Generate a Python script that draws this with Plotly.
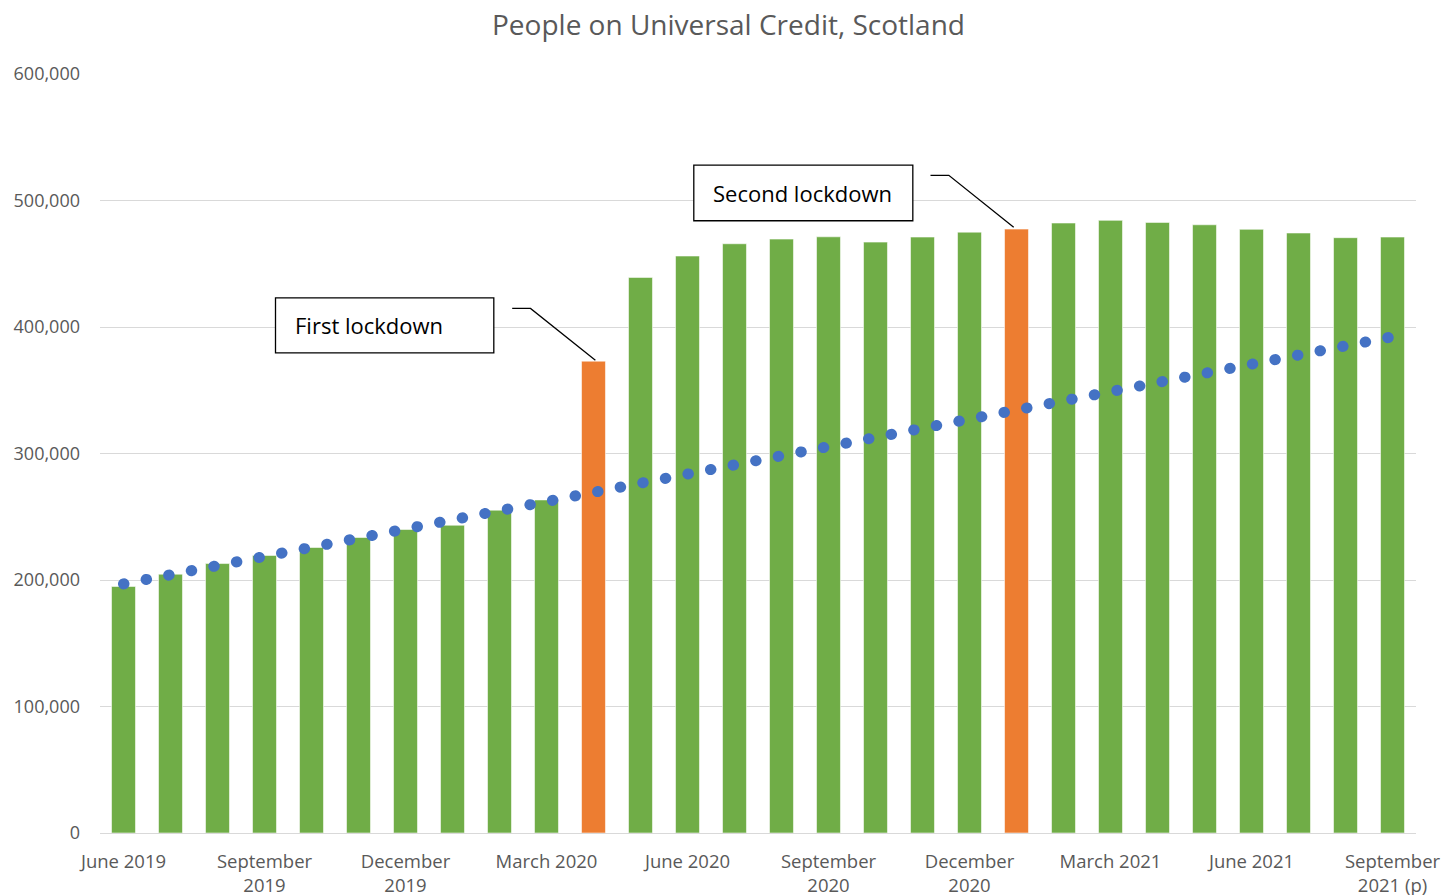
import plotly.graph_objects as go

months = ["Jun 2019", "Jul 2019", "Aug 2019", "Sep 2019", "Oct 2019", "Nov 2019",
          "Dec 2019", "Jan 2020", "Feb 2020", "Mar 2020", "Apr 2020", "May 2020",
          "Jun 2020", "Jul 2020", "Aug 2020", "Sep 2020", "Oct 2020", "Nov 2020",
          "Dec 2020", "Jan 2021", "Feb 2021", "Mar 2021", "Apr 2021", "May 2021",
          "Jun 2021", "Jul 2021", "Aug 2021", "Sep 2021"]
people = [194900, 204600, 213000, 219400, 225700, 233600, 239900, 243300,
          255200, 263300, 373000, 439200, 456100, 465800, 469500, 471300,
          467100, 471100, 475000, 477400, 482200, 484300, 482700, 480800,
          477200, 474300, 470600, 471100]
lockdown_months = ["Apr 2020", "Jan 2021"]
# linear trend line (start and end values)
trend_months = ["Jun 2019", "Sep 2021"]
trend_values = [196900, 392300]

tick_months = ["Jun 2019", "Sep 2019", "Dec 2019", "Mar 2020", "Jun 2020",
               "Sep 2020", "Dec 2020", "Mar 2021", "Jun 2021", "Sep 2021"]
tick_labels = ["June 2019", "September<br>2019", "December<br>2019", "March 2020",
               "June 2020", "September<br>2020", "December<br>2020", "March 2021",
               "June 2021", "September<br>2021 (p)"]
y_ticks = [0, 100000, 200000, 300000, 400000, 500000, 600000]

GREEN = "#70AD47"
ORANGE = "#ED7D31"
BLUE = "#4472C4"
GREY = "#595959"
FONT = "Open Sans"

idx = {m: i for i, m in enumerate(months)}
xs = list(range(len(months)))
colors = [ORANGE if m in lockdown_months else GREEN for m in months]

fig = go.Figure()
fig.add_trace(go.Bar(
    x=xs, y=people, width=0.51,
    marker=dict(color=colors, line=dict(color="rgba(255,255,255,0.55)", width=1)),
    hoverinfo="skip",
))
fig.add_trace(go.Scatter(
    x=[idx[m] for m in trend_months], y=trend_values, mode="lines",
    line=dict(color=BLUE, width=11, dash="0.5px,22.5px"),
    hoverinfo="skip",
))

# callout boxes and leader lines
boxes = [
    dict(text="First lockdown", x0=3.234, x1=7.879, y0=379600, y1=423100,
         tx=3.60, ty=401400,
         path=[(8.27, 414700), (8.66, 414700), (10.04, 373800)]),
    dict(text="Second lockdown", x0=12.134, x1=16.794, y0=484000, y1=528000,
         tx=12.49, ty=506000,
         path=[(17.17, 519900), (17.56, 519900), (18.94, 478800)]),
]
for b in boxes:
    fig.add_shape(type="rect", xref="x", yref="y", x0=b["x0"], x1=b["x1"],
                  y0=b["y0"], y1=b["y1"], fillcolor="white",
                  line=dict(color="black", width=1.3), layer="above")
    fig.add_annotation(x=b["tx"], y=b["ty"], xref="x", yref="y", text=b["text"],
                       showarrow=False, xanchor="left", yanchor="middle",
                       font=dict(family=FONT, size=22, color="black"))
    p = b["path"]
    d = "M {} {} L {} {} L {} {}".format(p[0][0], p[0][1], p[1][0], p[1][1], p[2][0], p[2][1])
    fig.add_shape(type="path", xref="x", yref="y", path=d,
                  line=dict(color="black", width=1.3), layer="above")

fig.update_layout(
    width=1442, height=895,
    margin=dict(l=100, r=26, t=74, b=62, autoexpand=False),
    paper_bgcolor="white", plot_bgcolor="white",
    showlegend=False,
    hovermode=False,
    title=dict(text="People on Universal Credit, Scotland", x=728.5 / 1442,
               xref="container", y=1 - 25 / 895, yref="container",
               xanchor="center", yanchor="middle",
               font=dict(family=FONT, size=28, color=GREY)),
    font=dict(family=FONT, size=18, color=GREY),
)
fig.update_xaxes(
    range=[-0.5, len(months) - 0.5],
    tickvals=[idx[m] for m in tick_months], ticktext=tick_labels,
    showgrid=False, zeroline=False, automargin=False,
    showline=True, linecolor="#D9D9D9", linewidth=1.3,
    ticks="", ticklabelstandoff=12,
    tickfont=dict(family=FONT, size=18.5, color=GREY),
)
fig.update_yaxes(
    range=[0, 600000], tickvals=y_ticks, tickformat=",",
    showgrid=True, gridcolor="#D9D9D9", gridwidth=1.3,
    zeroline=False, showline=False, ticks="", automargin=False,
    ticklabelstandoff=19,
    tickfont=dict(family=FONT, size=18, color=GREY),
)

css_js = ("var s=document.createElement('style');"
          "s.textContent='.scatterlayer .js-line{stroke-linecap:round;}';"
          "document.head.appendChild(s);")
fig.write_html("out.html", post_script=css_js)
